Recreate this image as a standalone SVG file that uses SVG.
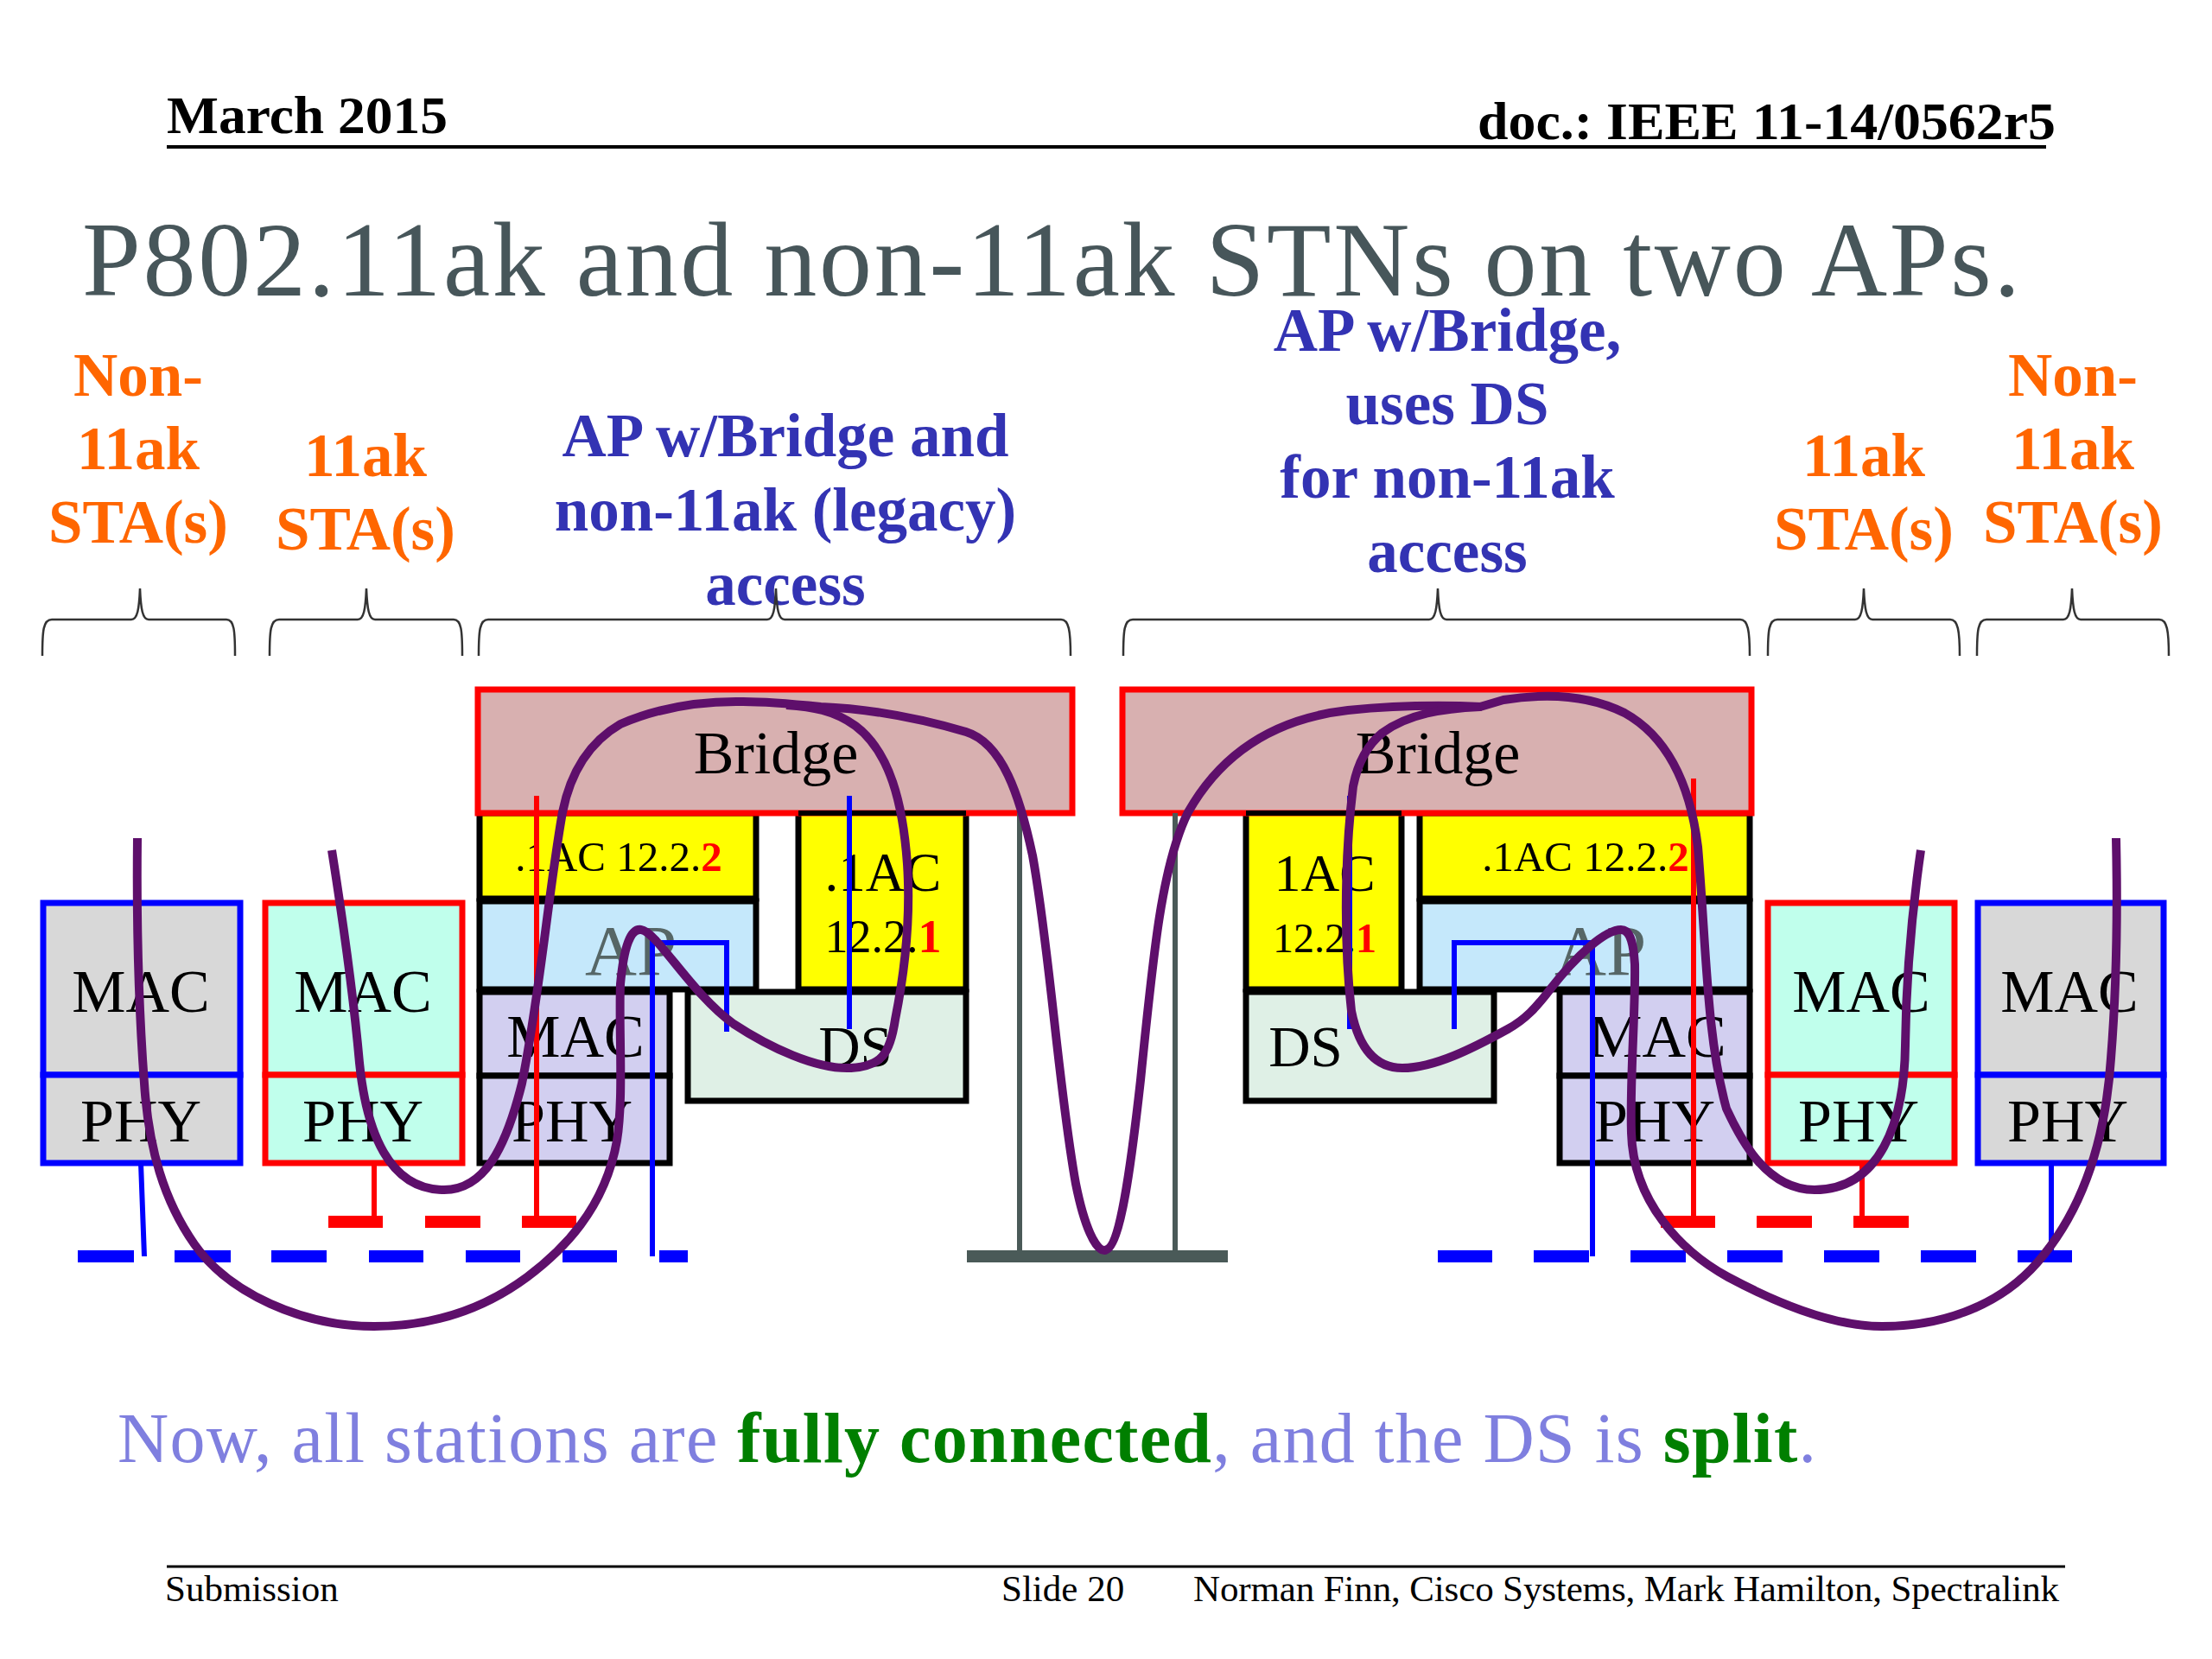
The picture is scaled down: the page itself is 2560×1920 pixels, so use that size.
<svg xmlns="http://www.w3.org/2000/svg" width="2560" height="1920" viewBox="0 0 2560 1920">
<style>
text{font-family:"Liberation Serif","Times New Roman",serif}
.b{font-weight:bold}
.m{text-anchor:middle}
.o{font-weight:bold;font-size:71px;fill:#ff6600;text-anchor:middle}
.u{font-weight:bold;font-size:71px;fill:#3333b3;text-anchor:middle}
.t{font-size:70px;fill:#000;text-anchor:middle}
.ap{font-size:83px;fill:#566666;text-anchor:middle}
.red{fill:#ff0000;font-weight:bold}
.rb{stroke:#ff0000;stroke-width:7}
.bb{stroke:#0000ff;stroke-width:7}
.kb{stroke:#000;stroke-width:7}
.brace{fill:none;stroke:#333;stroke-width:2.5}
.wire{fill:none;stroke-linecap:butt}
.curve{fill:none;stroke:#5e0f6b;stroke-width:10;stroke-linecap:butt;stroke-linejoin:round}
</style>
<rect width="2560" height="1920" fill="#fff"/>
<g id="header">
<text x="193" y="154" class="b" font-size="61" fill="#000" textLength="325" lengthAdjust="spacingAndGlyphs">March 2015</text>
<text x="1710" y="161" class="b" font-size="61" fill="#000" textLength="669" lengthAdjust="spacingAndGlyphs">doc.: IEEE 11-14/0562r5</text>
<line x1="193" y1="170" x2="2368" y2="170" stroke="#000" stroke-width="4"/>
</g>
<text id="title" x="95" y="342" font-size="122" fill="#47565a" textLength="2243" lengthAdjust="spacing">P802.11ak and non-11ak STNs on two APs.</text>
<g id="labels">
<text class="o" x="160" y="458">Non-</text><text class="o" x="160" y="543">11ak</text><text class="o" x="160" y="628">STA(s)</text>
<text class="o" x="423" y="551">11ak</text><text class="o" x="423" y="636">STA(s)</text>
<text class="u" x="909" y="528">AP w/Bridge and</text><text class="u" x="909" y="614">non-11ak (legacy)</text><text class="u" x="909" y="700">access</text>
<text class="u" x="1675" y="406">AP w/Bridge,</text><text class="u" x="1675" y="491">uses DS</text><text class="u" x="1675" y="576">for non-11ak</text><text class="u" x="1675" y="662">access</text>
<text class="o" x="2157" y="551">11ak</text><text class="o" x="2157" y="636">STA(s)</text>
<text class="o" x="2399" y="458">Non-</text><text class="o" x="2399" y="543">11ak</text><text class="o" x="2399" y="628">STA(s)</text>
</g>
<g id="braces">
<path class="brace" d="M49,759 C49,730 50,717 60,717 L152,717 C159,717 161,705 162,681 C163,705 165,717 172,717 L262,717 C271,717 272,730 272,759"/>
<path class="brace" d="M312,759 C312,730 313,717 323,717 L414,717 C421,717 423,705 424,681 C425,705 427,717 434,717 L525,717 C534,717 535,730 535,759"/>
<path class="brace" d="M554,759 C554,730 555,717 565,717 L888,717 C895,717 897,705 898,681 C899,705 901,717 908,717 L1228,717 C1237,717 1239,730 1239,759"/>
<path class="brace" d="M1300,759 C1300,730 1301,717 1311,717 L1654,717 C1661,717 1663,705 1664,681 C1665,705 1667,717 1674,717 L2014,717 C2023,717 2025,730 2025,759"/>
<path class="brace" d="M2046,759 C2046,730 2047,717 2057,717 L2147,717 C2154,717 2156,705 2157,681 C2158,705 2160,717 2167,717 L2257,717 C2266,717 2268,730 2268,759"/>
<path class="brace" d="M2288,759 C2288,730 2289,717 2299,717 L2388,717 C2395,717 2397,705 2398,681 C2399,705 2401,717 2408,717 L2499,717 C2508,717 2510,730 2510,759"/>
</g>
<g id="sta-non11ak-left">
<rect x="50" y="1045" width="228" height="199" fill="#d8d8d8" class="bb"/><rect x="50" y="1244" width="228" height="102" fill="#d8d8d8" class="bb"/>
<text class="t" x="163" y="1171">MAC</text><text class="t" x="163" y="1321">PHY</text>
</g>
<g id="sta-11ak-left">
<rect x="307" y="1045" width="228" height="199" fill="#c0ffec" class="rb"/><rect x="307" y="1244" width="228" height="102" fill="#c0ffec" class="rb"/>
<text class="t" x="420" y="1171">MAC</text><text class="t" x="420" y="1321">PHY</text>
</g>
<g id="ap-left">
<rect x="555" y="1043" width="320" height="102" fill="#c5e8fb" class="kb"/>
<text class="ap" x="730" y="1128">AP</text>
<rect x="555" y="941" width="320" height="99" fill="#ffff00" class="kb"/>
<text x="716" y="1008" class="m" font-size="49">.1AC 12.2.<tspan class="red">2</tspan></text>
<rect x="555" y="1148" width="220" height="97" fill="#d2cff0" class="kb"/><rect x="555" y="1245" width="220" height="101" fill="#d2cff0" class="kb"/>
<text class="t" x="666" y="1223" font-size="70">MAC</text><text class="t" x="662" y="1321">PHY</text>
<rect x="796" y="1148" width="322" height="126" fill="#dff0e6" class="kb"/>
<text x="990" y="1234" class="m" font-size="67">DS</text>
<rect x="924" y="940" width="194" height="205" fill="#ffff00" class="kb"/>
<text x="1022" y="1031" class="m" font-size="63">.1AC</text>
<text x="1022" y="1102" class="m" font-size="54">12.2.<tspan class="red">1</tspan></text>
<rect x="553" y="798" width="688" height="143" fill="#d8b0b0" class="rb"/>
<rect x="924" y="938" width="194" height="6" fill="#000"/>
<text class="t" x="898" y="895">Bridge</text>
</g>
<g id="ap-right">
<rect x="1643" y="1043" width="382" height="102" fill="#c5e8fb" class="kb"/>
<text class="ap" x="1852" y="1128">AP</text>
<rect x="1643" y="941" width="382" height="99" fill="#ffff00" class="kb"/>
<text x="1835" y="1008" class="m" font-size="49">.1AC 12.2.<tspan class="red">2</tspan></text>
<rect x="1805" y="1148" width="220" height="97" fill="#d2cff0" class="kb"/><rect x="1805" y="1245" width="220" height="101" fill="#d2cff0" class="kb"/>
<text class="t" x="1918" y="1223">MAC</text><text class="t" x="1915" y="1321">PHY</text>
<rect x="1442" y="1148" width="287" height="126" fill="#dff0e6" class="kb"/>
<text x="1511" y="1234" class="m" font-size="67">DS</text>
<rect x="1442" y="940" width="180" height="205" fill="#ffff00" class="kb"/>
<text x="1533" y="1031" class="m" font-size="62">1AC</text>
<text x="1533" y="1102" class="m" font-size="48">12.2.<tspan class="red">1</tspan></text>
<rect x="1299" y="798" width="728" height="143" fill="#d8b0b0" class="rb"/>
<rect x="1442" y="938" width="180" height="6" fill="#000"/>
<text class="t" x="1664" y="895">Bridge</text>
</g>
<g id="sta-11ak-right">
<rect x="2046" y="1045" width="216" height="199" fill="#c0ffec" class="rb"/><rect x="2046" y="1244" width="216" height="102" fill="#c0ffec" class="rb"/>
<text class="t" x="2154" y="1171">MAC</text><text class="t" x="2151" y="1321">PHY</text>
</g>
<g id="sta-non11ak-right">
<rect x="2289" y="1045" width="215" height="199" fill="#d8d8d8" class="bb"/><rect x="2289" y="1244" width="215" height="102" fill="#d8d8d8" class="bb"/>
<text class="t" x="2395" y="1171">MAC</text><text class="t" x="2393" y="1321">PHY</text>
</g>
<g id="connectors">
<g class="wire" stroke="#0000ff" stroke-width="14">
<path d="M90,1454H155M202,1454H267M314,1454H378M427,1454H490M539,1454H602M651,1454H714M763,1454H796"/>
<path d="M1664,1454H1727M1775,1454H1839M1887,1454H1951M1999,1454H2063M2111,1454H2175M2223,1454H2287M2335,1454H2398"/>
</g>
<g class="wire" stroke="#ff0000" stroke-width="14">
<path d="M380,1414H443M492,1414H556M604,1414H667"/>
<path d="M1922,1414H1985M2033,1414H2097M2145,1414H2209"/>
</g>
<g class="wire" stroke="#ff0000" stroke-width="6">
<path d="M433,1346V1414M621,921V1414M1960,901V1414M2155,1346V1414"/>
</g>
<g class="wire" stroke="#0000ff" stroke-width="6">
<path d="M163,1346L167,1454M755,1454V1091H841V1194M983,921V1191"/>
<path d="M1562,921V1191M1683,1191V1091H1843V1454M2374,1346V1454"/>
</g>
<g class="wire" stroke="#4a5a58">
<path d="M1180,941V1452M1360,941V1452" stroke-width="6"/>
<path d="M1119,1454H1421" stroke-width="14"/>
</g>
<path class="curve" d="M159,970 C158,1060 160,1160 167,1254 C172,1330 190,1390 225,1440 C265,1497 350,1535 433,1535 C500,1535 560,1515 610,1478 C650,1448 700,1400 714,1320 C722,1270 716,1190 718,1139 C722,1095 730,1074 742,1076 C760,1078 800,1150 849,1185 C890,1212 945,1238 985,1236 C1020,1234 1030,1220 1036,1180 C1048,1120 1054,1060 1050,1000 C1045,930 1030,870 990,840 C965,822 940,818 910,816"/>
<path class="curve" d="M384,984 C396,1060 408,1140 416,1230 C424,1310 450,1377 514,1377 C560,1377 585,1330 604,1254 C625,1150 635,1030 651,940 C660,895 680,860 718,838 C760,820 810,811 860,812 C890,812 920,815 950,818 C1000,820 1060,830 1118,847 C1160,860 1180,920 1195,990 C1215,1100 1225,1260 1245,1370 C1255,1420 1268,1447 1278,1447 C1297,1447 1310,1340 1320,1250 C1335,1100 1345,1000 1375,940 C1420,860 1490,830 1560,822 C1620,816 1670,816 1715,818"/>
<path class="curve" d="M2449,970 C2451,1060 2449,1150 2443,1225 C2438,1300 2420,1390 2358,1461 C2310,1516 2240,1535 2178,1535 C2125,1535 2060,1510 2000,1478 C1945,1448 1890,1390 1888,1311 C1886,1250 1893,1170 1892,1116 C1890,1085 1885,1076 1876,1076 C1858,1076 1825,1105 1794,1145 C1778,1166 1765,1180 1745,1191 C1705,1213 1660,1236 1623,1236 C1590,1236 1572,1210 1564,1170 C1556,1100 1555,1000 1566,910 C1572,880 1585,860 1600,848 C1630,826 1670,820 1713,818"/>
<path class="curve" d="M2223,984 C2212,1060 2206,1130 2205,1210 C2204,1300 2175,1377 2100,1377 C2045,1377 2015,1320 1998,1283 C1975,1200 1975,1100 1965,980 C1955,900 1925,850 1880,825 C1840,805 1790,802 1740,810 L1713,818"/>
</g>
<text id="caption" x="136" y="1692" font-size="82" fill="#7f7fdf" textLength="1966" lengthAdjust="spacing">Now, all stations are <tspan class="b" fill="#007f00">fully connected</tspan>, and the DS is <tspan class="b" fill="#007f00">split</tspan>.</text>
<g id="footer">
<line x1="193" y1="1813" x2="2390" y2="1813" stroke="#000" stroke-width="3"/>
<text x="191" y="1853" font-size="43">Submission</text>
<text x="1159" y="1853" font-size="43">Slide 20</text>
<text x="1381" y="1853" font-size="43" textLength="1002" lengthAdjust="spacing">Norman Finn, Cisco Systems, Mark Hamilton, Spectralink</text>
</g>
</svg>
